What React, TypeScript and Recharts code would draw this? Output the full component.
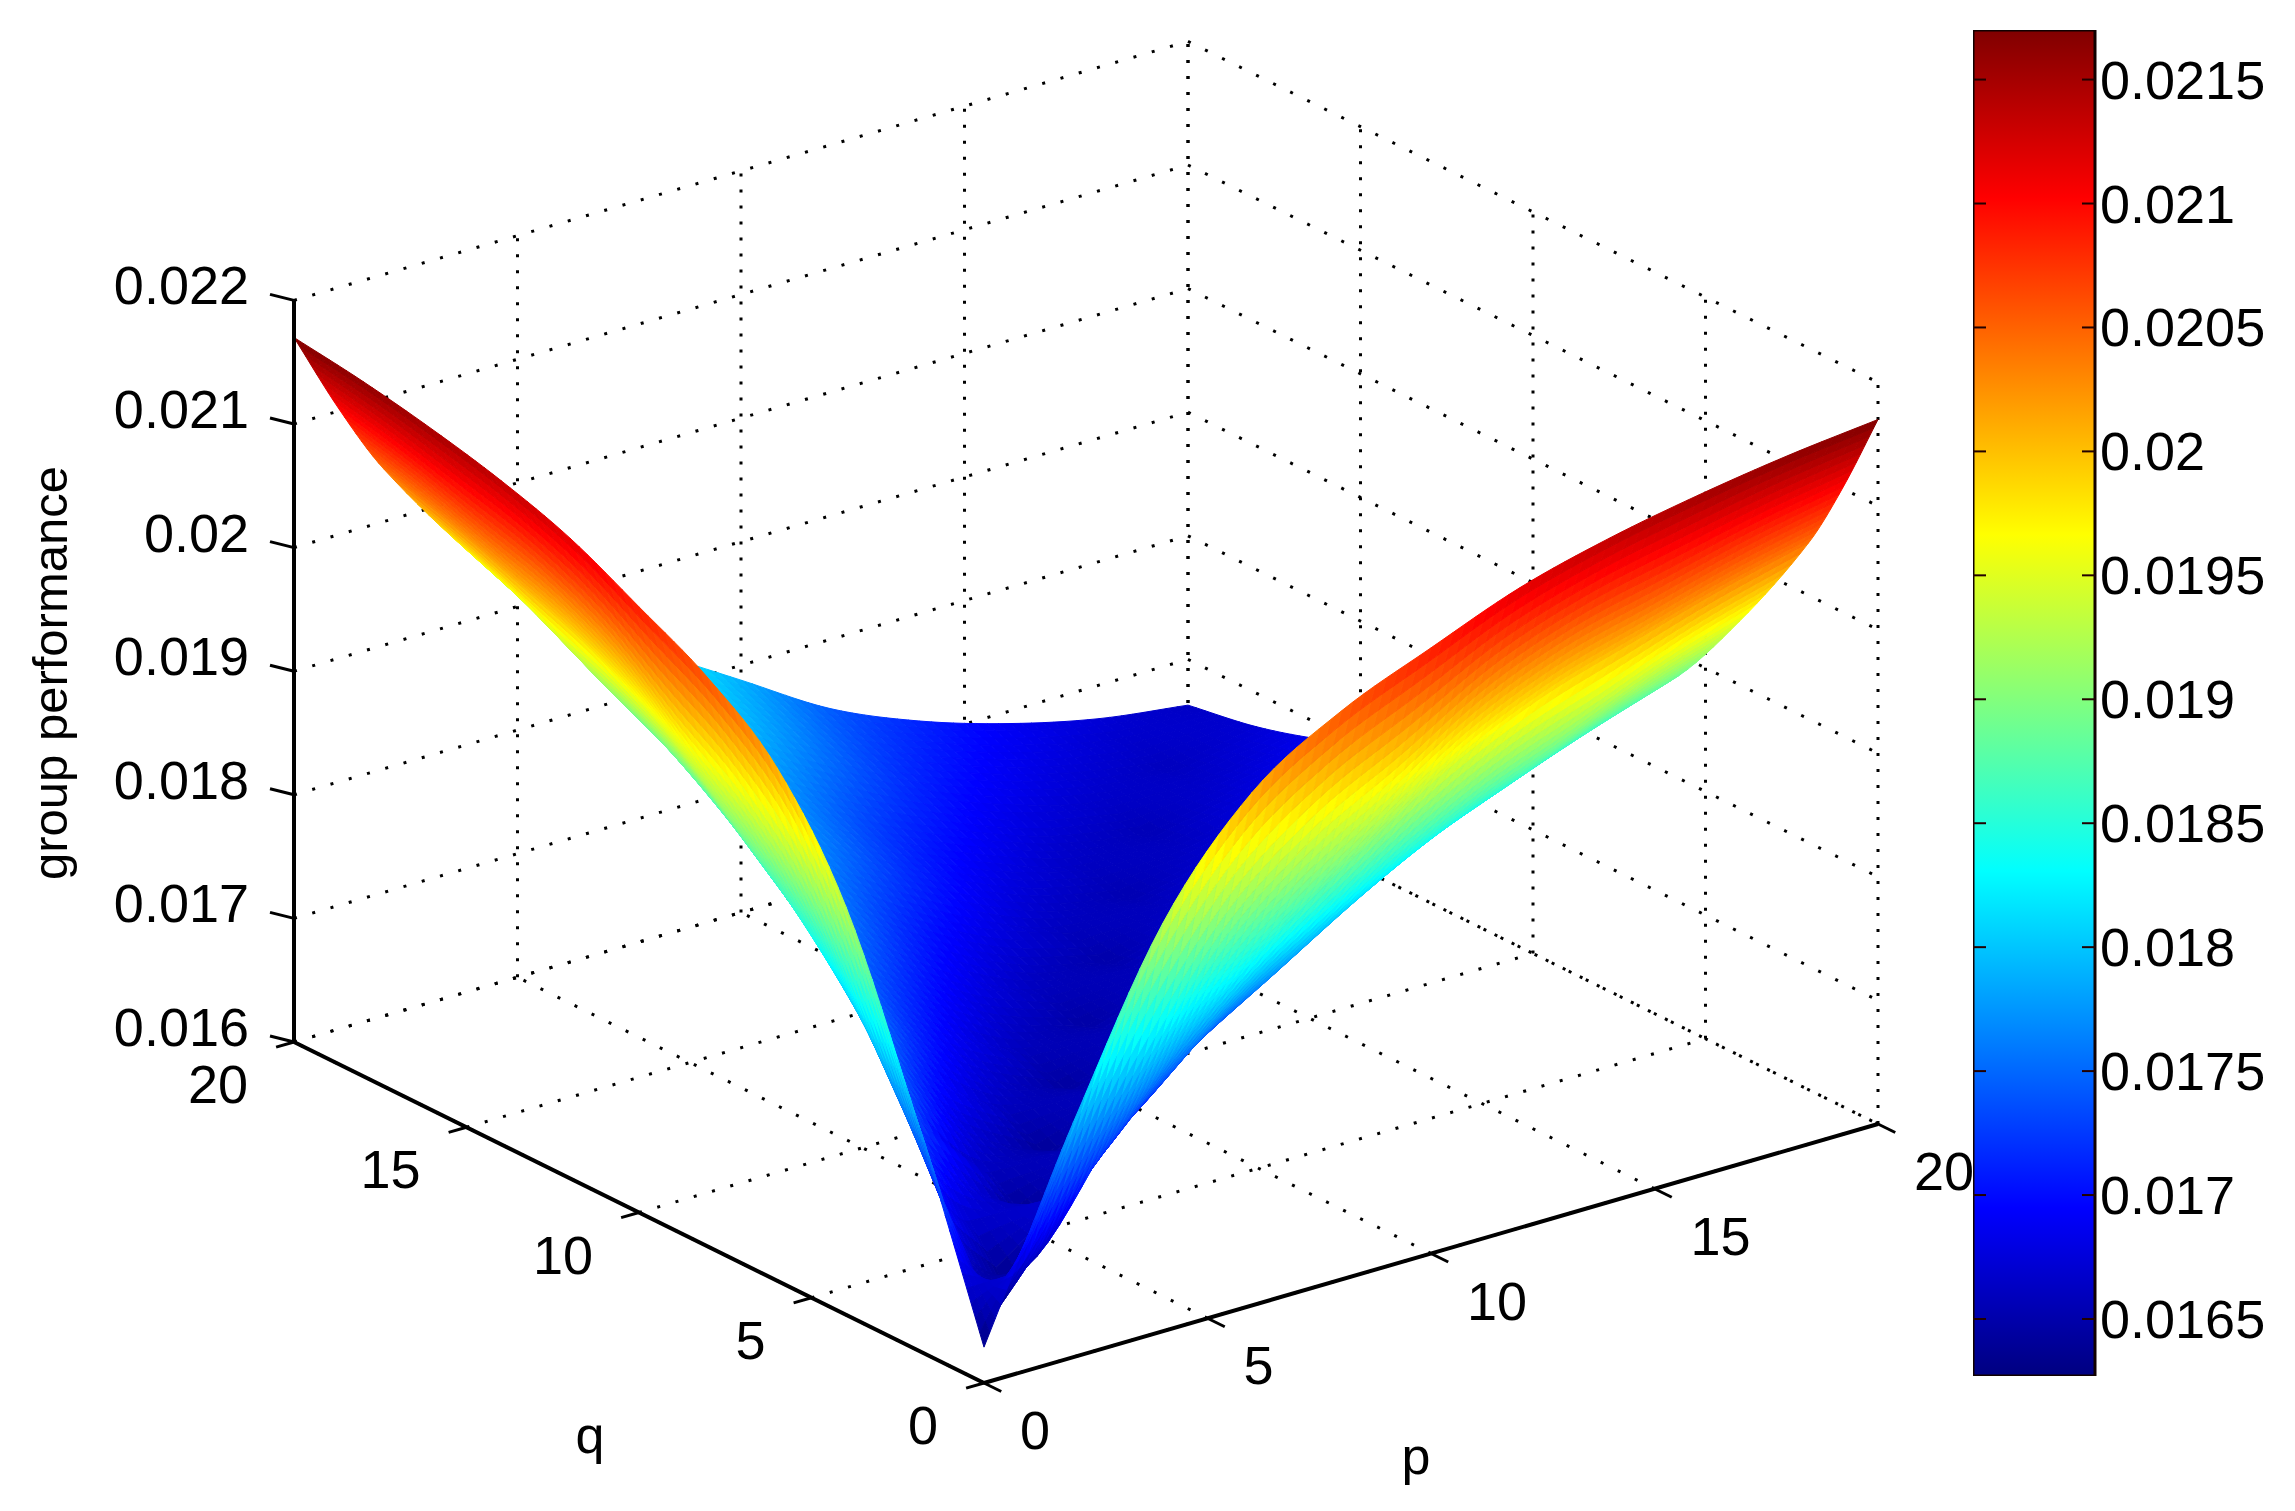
import { Bar, ComposedChart, Scatter, ScatterChart, XAxis, YAxis } from 'recharts';

const W = 2295;
const H = 1511;

// surface samples
const pSamples = [0, 1, 2, 4, 6, 8, 10, 12, 14, 16, 18, 20];
const qSamples = [0, 1, 2, 4, 6, 8, 10, 12, 14, 16, 18, 20];
const zAtQ0 = [0.01629, 0.0171, 0.0179, 0.0193, 0.02015, 0.0206, 0.0209, 0.02118, 0.02137, 0.02151, 0.02162, 0.0217];
const zAtQ1 = [0.0171, 0.01631, 0.01675, 0.0178, 0.01876, 0.01938, 0.01979, 0.02023, 0.02052, 0.0207, 0.02088, 0.02102];
const zAtQ2 = [0.0179, 0.01675, 0.01632, 0.01706, 0.01784, 0.01848, 0.01899, 0.01946, 0.0198, 0.02003, 0.02025, 0.02043];
const zAtQ4 = [0.0193, 0.0178, 0.01706, 0.01636, 0.01684, 0.01741, 0.01786, 0.0183, 0.01868, 0.01897, 0.01928, 0.01952];
const zAtQ6 = [0.02015, 0.01876, 0.01784, 0.01684, 0.01639, 0.01676, 0.01717, 0.0176, 0.01796, 0.01825, 0.01852, 0.01876];
const zAtQ8 = [0.0206, 0.01938, 0.01848, 0.01741, 0.01676, 0.01643, 0.0167, 0.01705, 0.01743, 0.01772, 0.01806, 0.01832];
const zAtQ10 = [0.0209, 0.01979, 0.01899, 0.01786, 0.01717, 0.0167, 0.01646, 0.01668, 0.017, 0.01727, 0.01761, 0.01788];
const zAtQ12 = [0.02118, 0.02023, 0.01946, 0.0183, 0.0176, 0.01705, 0.01668, 0.01649, 0.01669, 0.01694, 0.0172, 0.01744];
const zAtQ14 = [0.02137, 0.02052, 0.0198, 0.01868, 0.01796, 0.01743, 0.017, 0.01669, 0.01653, 0.01669, 0.01692, 0.01713];
const zAtQ16 = [0.02151, 0.0207, 0.02003, 0.01897, 0.01825, 0.01772, 0.01727, 0.01694, 0.01669, 0.01656, 0.01672, 0.0169];
const zAtQ18 = [0.02162, 0.02088, 0.02025, 0.01928, 0.01852, 0.01806, 0.01761, 0.0172, 0.01692, 0.01672, 0.0166, 0.01673];
const zAtQ20 = [0.0217, 0.02102, 0.02043, 0.01952, 0.01876, 0.01832, 0.01788, 0.01744, 0.01713, 0.0169, 0.01673, 0.01663];
const zRows = [zAtQ0, zAtQ1, zAtQ2, zAtQ4, zAtQ6, zAtQ8, zAtQ10, zAtQ12, zAtQ14, zAtQ16, zAtQ18, zAtQ20];

// axis ticks
const pTicks = [0, 5, 10, 15, 20];
const qTicks = [0, 5, 10, 15, 20];
const zTicks = [0.016, 0.017, 0.018, 0.019, 0.02, 0.021, 0.022];
const colorTicks = [0.0165, 0.017, 0.0175, 0.018, 0.0185, 0.019, 0.0195, 0.02, 0.0205, 0.021, 0.0215];
const colorMin = 0.01627;
const colorMax = 0.0217;

const FONT = '"Liberation Sans", Arial, sans-serif';
const Z_SCALE = 123600;

// view of the box: orthographic, the chart's x/y axes run in screen units
function project(p: number, q: number, z: number) {
  return {
    x: 984 + 44.7 * p - 34.5 * q,
    y: 1383 - 12.95 * p - 17.05 * q - Z_SCALE * (z - 0.016),
  };
}

function jet(z: number) {
  const t = (z - colorMin) / (colorMax - colorMin);
  const band = (c: number) => Math.round(255 * Math.max(0, Math.min(1, 1.5 - Math.abs(4 * t - c))));
  return `rgb(${band(3)},${band(2)},${band(1)})`;
}

const surfacePoints = qSamples.flatMap((q, j) => pSamples.map((p, i) => project(p, q, zRows[j][i])));

const SUB = 8;

// shading only: hermite curve through one row of samples, like "shading interp".
// the valley at p = q is a real crease, so a turning sample keeps its corner
function smooth(knots: number[], vals: number[], cell: number, u: number) {
  const h = knots[cell + 1] - knots[cell];
  const secant = (vals[cell + 1] - vals[cell]) / h;
  const slope = (k: number) => {
    if (k === 0 || k === knots.length - 1) return secant;
    const s1 = (vals[k] - vals[k - 1]) / (knots[k] - knots[k - 1]);
    const s2 = (vals[k + 1] - vals[k]) / (knots[k + 1] - knots[k]);
    if (s1 * s2 <= 0) return secant;
    const mid = (vals[k + 1] - vals[k - 1]) / (knots[k + 1] - knots[k - 1]);
    const cap = 3 * Math.min(Math.abs(s1), Math.abs(s2));
    return Math.sign(mid) * Math.min(Math.abs(mid), cap);
  };
  const u2 = u * u;
  const u3 = u2 * u;
  return (
    (2 * u3 - 3 * u2 + 1) * vals[cell] +
    (u3 - 2 * u2 + u) * h * slope(cell) +
    (-2 * u3 + 3 * u2) * vals[cell + 1] +
    (u3 - u2) * h * slope(cell + 1)
  );
}

function refine(knotsP: number[], knotsQ: number[], rows: number[][]) {
  const out: number[][] = [];
  for (let j = 0; j < knotsQ.length - 1; j++) {
    for (let n = 0; n < SUB + (j === knotsQ.length - 2 ? 1 : 0); n++) {
      const v = n / SUB;
      const row = knotsP.map((_, i) => smooth(knotsQ, rows.map((r) => r[i]), j, v));
      const fine: number[] = [];
      for (let i = 0; i < knotsP.length - 1; i++) {
        for (let m = 0; m < SUB + (i === knotsP.length - 2 ? 1 : 0); m++) {
          fine.push(smooth(knotsP, row, i, m / SUB));
        }
      }
      out.push(fine);
    }
  }
  return out;
}

// back to front, so the near wings cover the valley behind them
function renderSurface({ points }: any) {
  const cols = pSamples.length;
  const xs = qSamples.map((_, j) => pSamples.map((__, i) => points[j * cols + i].x));
  // floor position of each vertex: linear, so it refines exactly; height goes back on after
  const floors = qSamples.map((_, j) => pSamples.map((__, i) => points[j * cols + i].y + Z_SCALE * zRows[j][i]));
  const fx = refine(pSamples, qSamples, xs);
  const ff = refine(pSamples, qSamples, floors);
  const fz = refine(pSamples, qSamples, zRows);
  const fy = ff.map((r, j) => r.map((v, i) => v - Z_SCALE * fz[j][i]));
  const polys: any[] = [];
  for (let j = fx.length - 2; j >= 0; j--) {
    for (let i = fx[0].length - 2; i >= 0; i--) {
      const color = jet((fz[j][i] + fz[j][i + 1] + fz[j + 1][i] + fz[j + 1][i + 1]) / 4);
      const pts = `${fx[j][i]},${fy[j][i]} ${fx[j][i + 1]},${fy[j][i + 1]} ${fx[j + 1][i + 1]},${fy[j + 1][i + 1]} ${fx[j + 1][i]},${fy[j + 1][i]}`;
      polys.push(<polygon key={`${j}-${i}`} points={pts} fill={color} stroke={color} strokeWidth={1} />);
    }
  }
  return <g>{polys}</g>;
}

const noDot = () => <g />;

const zLow = zTicks[0];
const zHigh = zTicks[zTicks.length - 1];

// dotted box lines on the floor and the two back walls
const gridLines = [
  ...pTicks.map((p) => [project(p, 0, zLow), project(p, 20, zLow)]),
  ...qTicks.map((q) => [project(0, q, zLow), project(20, q, zLow)]),
  ...pTicks.map((p) => [project(p, 20, zLow), project(p, 20, zHigh)]),
  ...qTicks.map((q) => [project(20, q, zLow), project(20, q, zHigh)]),
  ...zTicks.map((z) => [project(0, 20, z), project(20, 20, z)]),
  ...zTicks.map((z) => [project(20, 20, z), project(20, 0, z)]),
];

const axisLines = [
  [project(0, 20, zLow), project(0, 20, zHigh)],
  [project(0, 0, zLow), project(0, 20, zLow)],
  [project(0, 0, zLow), project(20, 0, zLow)],
];

const tickMarks = [
  ...pTicks.map((p) => [project(p, 0, zLow), project(p, -0.5, zLow)]),
  ...qTicks.map((q) => [project(0, q, zLow), project(-0.4, q, zLow)]),
  ...zTicks.map((z) => {
    const from = project(0, 20, z);
    return [from, { x: from.x - 24, y: from.y - 6 }];
  }),
];

const tickLabels = [
  ...zTicks.map((z) => {
    const at = project(0, 20, z);
    return { x: at.x - 45, y: at.y - 15, label: String(z), anchor: 'end' };
  }),
  ...qTicks.map((q) => {
    const at = project(0, q, zLow);
    return { x: at.x - 46, y: at.y + 42, label: String(q), anchor: 'end' };
  }),
  ...pTicks.map((p) => {
    const at = project(p, 0, zLow);
    return { x: at.x + 36, y: at.y + 47, label: String(p), anchor: 'start' };
  }),
];

const titleLabels = [
  { x: 590, y: 1453, label: 'q' },
  { x: 1416, y: 1474, label: 'p' },
];

function TickText({ cx, cy, payload }: any) {
  return (
    <text x={cx} y={cy} textAnchor={payload.anchor} dominantBaseline="central" fontFamily={FONT} fontSize={54} fill="#000">
      {payload.label}
    </text>
  );
}

function TitleText({ cx, cy, payload }: any) {
  return (
    <text x={cx} y={cy} textAnchor="middle" fontFamily={FONT} fontSize={52} fill="#000">
      {payload.label}
    </text>
  );
}

function ColorTick({ x, y, payload }: any) {
  return (
    <g>
      <line x1={x - 122} x2={x - 109} y1={y} y2={y} stroke="#200" strokeWidth={2} />
      <line x1={x - 13} x2={x} y1={y} y2={y} stroke="#200" strokeWidth={2} />
      <text x={x + 5} y={y} dominantBaseline="central" fontFamily={FONT} fontSize={54} fill="#000">
        {String(payload.value)}
      </text>
    </g>
  );
}

const colorBarData = [{ name: 'z', range: [colorMin, colorMax] }];

export default function App() {
  return (
    <div style={{ position: 'absolute', left: 0, top: 0, width: W, height: H, background: '#fff' }}>
      <div style={{ position: 'absolute', left: 0, top: 0 }}>
        <ScatterChart width={W} height={H} margin={{ top: 0, right: 0, bottom: 0, left: 0 }}>
          <XAxis type="number" dataKey="x" domain={[0, W]} hide />
          <YAxis type="number" dataKey="y" domain={[0, H]} reversed hide />
          {gridLines.map((seg, i) => (
            <Scatter
              key={`grid-${i}`}
              data={seg}
              shape={noDot}
              line={{ stroke: '#000', strokeWidth: 3, strokeDasharray: seg[0].x === seg[1].x ? '3 13' : '3 16' }}
              isAnimationActive={false}
            />
          ))}
          <Scatter data={surfacePoints} shape={noDot} line={renderSurface} isAnimationActive={false} />
          {axisLines.map((seg, i) => (
            <Scatter key={`axis-${i}`} data={seg} shape={noDot} line={{ stroke: '#000', strokeWidth: 4 }} isAnimationActive={false} />
          ))}
          {tickMarks.map((seg, i) => (
            <Scatter key={`tick-${i}`} data={seg} shape={noDot} line={{ stroke: '#000', strokeWidth: 3 }} isAnimationActive={false} />
          ))}
          <Scatter data={tickLabels} shape={TickText} isAnimationActive={false} />
          <Scatter data={titleLabels} shape={TitleText} isAnimationActive={false} />
        </ScatterChart>
      </div>
      <svg width={120} height={500} style={{ position: 'absolute', left: 0, top: 420 }}>
        <text
          transform="translate(67,253) rotate(-90)"
          textAnchor="middle"
          fontFamily={FONT}
          fontSize={49}
          fill="#000"
        >
          group performance
        </text>
      </svg>
      <div style={{ position: 'absolute', left: 1973, top: 30 }}>
        <ComposedChart width={322} height={1346} data={colorBarData} barCategoryGap={0} margin={{ top: 0, right: 0, bottom: 0, left: 0 }}>
          <defs>
            <linearGradient id="jetBar" x1="0" y1="1" x2="0" y2="0">
              <stop offset="0" stopColor="#000080" />
              <stop offset="0.125" stopColor="#0000ff" />
              <stop offset="0.375" stopColor="#00ffff" />
              <stop offset="0.625" stopColor="#ffff00" />
              <stop offset="0.875" stopColor="#ff0000" />
              <stop offset="1" stopColor="#800000" />
            </linearGradient>
          </defs>
          <XAxis dataKey="name" hide />
          <YAxis
            orientation="right"
            width={200}
            domain={[colorMin, colorMax]}
            ticks={colorTicks}
            interval={0}
            axisLine={false}
            tickLine={false}
            tickSize={0}
            tickMargin={0}
            tick={ColorTick}
          />
          <Bar dataKey="range" fill="url(#jetBar)" stroke="#100" strokeWidth={3} isAnimationActive={false} />
        </ComposedChart>
      </div>
    </div>
  );
}
